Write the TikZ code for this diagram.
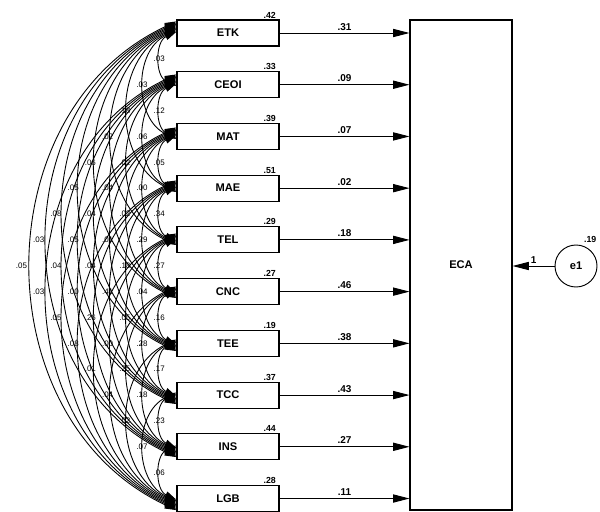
\documentclass[tikz,border=0pt]{standalone}
\usepackage{fontspec}
\setmainfont{Liberation Sans}
\usetikzlibrary{positioning, arrows.meta}

\begin{document}
\begin{tikzpicture}[
   x=0.03cm, y=-0.03cm,
   node distance=0.74cm,
   observed/.style={draw, line width=0.9pt, minimum width=3.06cm, minimum height=0.78cm, inner sep=0pt, font=\fontsize{9.5}{11}\selectfont\bfseries},
   outcome/.style={observed, minimum height=14.7cm},
   residual/.style={circle, draw, line width=0.8pt, minimum size=1.26cm, inner sep=0pt, font=\fontsize{9.5}{11}\selectfont\bfseries},
   rsq/.style={font=\fontsize{7.5}{9}\selectfont\bfseries, inner sep=1pt, anchor=south east, xshift=-2pt},
   weight/.style={font=\fontsize{8.5}{10}\selectfont\bfseries, inner sep=2pt},
   covval/.style={font=\fontsize{6.8}{8}\selectfont, inner sep=0.5pt},
   regress/.style={-{Triangle[length=14pt, width=7pt]}, line width=0.8pt},
   covar/.style={{Triangle[length=10pt, width=6pt]}-{Triangle[length=10pt, width=6pt]}, line width=0.75pt, bend right=65, looseness=1.12}
]
   \useasboundingbox (0,0) rectangle (600,511);

   % Observed predictors
   \node[observed, label={[rsq]north east:.42}] (etk) at (228,33) {ETK};
   \node[observed, below=of etk, label={[rsq]north east:.33}] (ceoi) {CEOI};
   \node[observed, below=of ceoi, label={[rsq]north east:.39}] (mat) {MAT};
   \node[observed, below=of mat, label={[rsq]north east:.51}] (mae) {MAE};
   \node[observed, below=of mae, label={[rsq]north east:.29}] (tel) {TEL};
   \node[observed, below=of tel, label={[rsq]north east:.27}] (cnc) {CNC};
   \node[observed, below=of cnc, label={[rsq]north east:.19}] (tee) {TEE};
   \node[observed, below=of tee, label={[rsq]north east:.37}] (tcc) {TCC};
   \node[observed, below=of tcc, label={[rsq]north east:.44}] (ins) {INS};
   \node[observed, below=of ins, label={[rsq]north east:.28}] (lgb) {LGB};

   % Outcome and its error
   \node[outcome] (eca) at (461,265) {ECA};
   \node[residual, label={[rsq, anchor=south, xshift=5pt, yshift=3pt]60:.19}] (e1) at (576,266) {e1};

   % Regression paths
   \draw[regress] (etk) -- node[weight, above] {.31} (etk -| eca.west);
   \draw[regress] (ceoi) -- node[weight, above] {.09} (ceoi -| eca.west);
   \draw[regress] (mat) -- node[weight, above] {.07} (mat -| eca.west);
   \draw[regress] (mae) -- node[weight, above] {.02} (mae -| eca.west);
   \draw[regress] (tel) -- node[weight, above] {.18} (tel -| eca.west);
   \draw[regress] (cnc) -- node[weight, above] {.46} (cnc -| eca.west);
   \draw[regress] (tee) -- node[weight, above] {.38} (tee -| eca.west);
   \draw[regress] (tcc) -- node[weight, above] {.43} (tcc -| eca.west);
   \draw[regress] (ins) -- node[weight, above] {.27} (ins -| eca.west);
   \draw[regress] (lgb) -- node[weight, above] {.11} (lgb -| eca.west);
   \draw[regress] (e1) -- node[weight, above] {1} (eca.east |- e1);

   % Covariances between predictors
   \foreach \a/\b/\i/\j/\val [evaluate=\j as \off using 1.1*(\j-\i)] in {
      etk/ceoi/0/1/.03, ceoi/mat/1/2/.12, mat/mae/2/3/.05, mae/tel/3/4/.34,
      tel/cnc/4/5/.27, cnc/tee/5/6/.16, tee/tcc/6/7/.17, tcc/ins/7/8/.23,
      ins/lgb/8/9/.06,
      etk/mat/0/2/.03, ceoi/mae/1/3/.06, mat/tel/2/4/.00, mae/cnc/3/5/.29,
      tel/tee/4/6/.04, cnc/tcc/5/7/.28, tee/ins/6/8/.18, tcc/lgb/7/9/.07,
      etk/mae/0/3/.18, ceoi/tel/1/4/.02, mat/cnc/2/5/.02, mae/tee/3/6/.18,
      tel/tcc/4/7/.05, cnc/ins/5/8/.25, tee/lgb/6/9/.02,
      etk/tel/0/4/.02, ceoi/cnc/1/5/.04, mat/tee/2/6/.01, mae/tcc/3/7/.41,
      tel/ins/4/8/.00, cnc/lgb/5/9/.04,
      etk/cnc/0/5/.06, ceoi/tee/1/6/.04, mat/tcc/2/7/.04, mae/ins/3/8/.26,
      tel/lgb/4/9/.01,
      etk/tee/0/6/.05, ceoi/tcc/1/7/.05, mat/ins/2/8/.00, mae/lgb/3/9/.08,
      etk/tcc/0/7/.08, ceoi/ins/1/8/.04, mat/lgb/2/9/.05,
      etk/ins/0/8/.03, ceoi/lgb/1/9/.03,
      etk/lgb/0/9/.05}
      \draw[covar] ([yshift=\off pt]\a.west) to node[covval, xshift=-0.85*\off pt] {\val} ([yshift=-\off pt]\b.west);

\end{tikzpicture}
\end{document}
